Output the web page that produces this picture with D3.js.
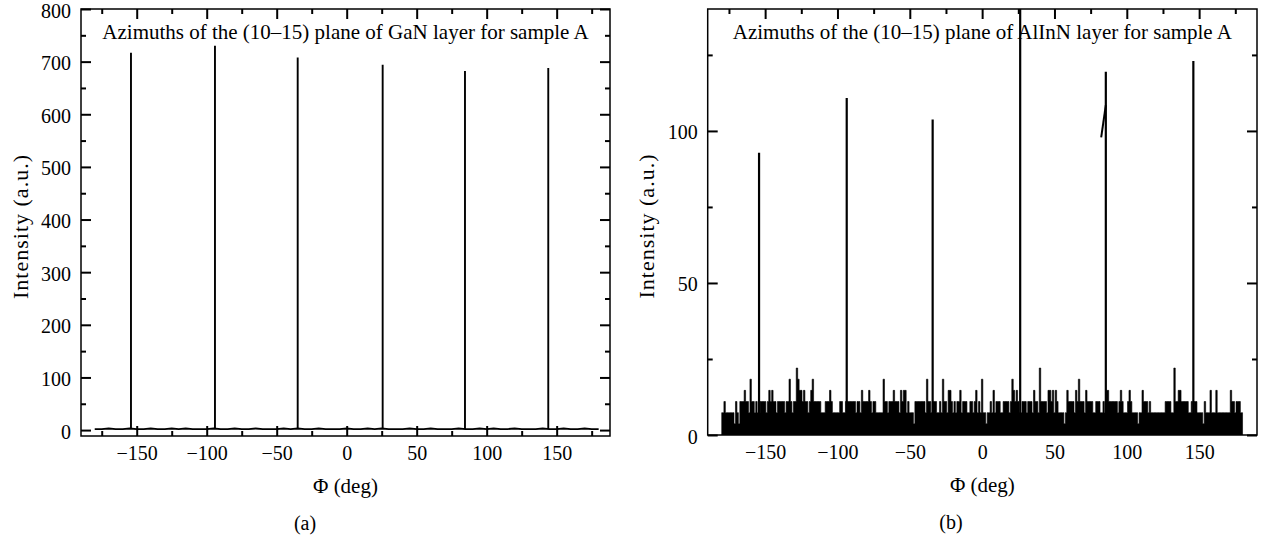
<!DOCTYPE html>
<html>
<head>
<meta charset="utf-8">
<script src="https://cdn.jsdelivr.net/npm/d3@7"></script>
<style>
  body { margin: 0; background: #fff; }
  svg text { font-family: "Liberation Serif", "Times New Roman", serif; fill: #000; }
</style>
</head>
<body>
<svg id="chart" width="1262" height="542"></svg>
<script>
"use strict";

// ---- data ----

// (a) GaN layer: peak positions (deg) and heights (a.u.)
var gaNPeakPhi = [-154.1, -94.1, -35.0, 25.7, 84.5, 144.0];
var gaNPeakHeight = [717, 730, 708, 694, 682, 688];
// baseline between peaks, one value every 5 deg from -180 to 180
var gaNBaseline = [
  2, 2, 3, 2, 2, 3, 2, 2, 3, 2,
  2, 3, 2, 3, 2, 2, 2, 3, 2, 2,
  3, 2, 2, 3, 2, 2, 2, 3, 2, 3,
  2, 2, 3, 2, 2, 2, 3, 2, 2, 3,
  2, 3, 2, 2, 2, 3, 2, 2, 3, 2,
  2, 2, 3, 2, 2, 3, 2, 3, 2, 2,
  3, 2, 2, 2, 3, 2, 2, 3, 2, 2,
  3, 2, 2
];

// (b) AlInN layer: peaks
var alInNPeakPhi = [-154.2, -93.6, -34.2, 26.3, 85.5, 146.0];
var alInNPeakHeight = [92.8, 110.8, 103.8, 141, 119.5, 123];
// stray stroke beside the 85 deg peak
var alInNStray = [[82.3, 97.9], [85.5, 108.5]];
// noise, counts per 1 deg bin from -180 to 180
var alInNCounts = [
  2, 2, 3, 2, 2, 2, 2, 2, 2, 1,
  3, 2, 1, 3, 3, 3, 4, 3, 3, 2,
  5, 3, 3, 2, 3, 2, 2, 3, 3, 3,
  3, 2, 3, 4, 3, 4, 3, 3, 2, 3,
  3, 3, 3, 3, 2, 3, 3, 5, 3, 2,
  3, 3, 6, 5, 4, 4, 3, 4, 3, 3,
  2, 3, 4, 5, 3, 3, 3, 3, 3, 2,
  2, 2, 3, 3, 3, 4, 3, 2, 2, 2,
  2, 2, 3, 3, 2, 2, 3, 3, 3, 3,
  3, 3, 3, 2, 3, 3, 2, 4, 3, 3,
  3, 3, 4, 3, 2, 3, 3, 2, 2, 2,
  2, 2, 5, 3, 3, 2, 3, 3, 3, 4,
  3, 3, 3, 2, 4, 3, 4, 4, 2, 3,
  2, 2, 2, 1, 3, 3, 3, 3, 3, 3,
  3, 2, 5, 3, 3, 2, 3, 3, 3, 2,
  2, 3, 2, 5, 3, 3, 2, 4, 4, 3,
  2, 3, 2, 3, 3, 4, 2, 3, 3, 3,
  2, 2, 3, 3, 2, 3, 4, 2, 3, 2,
  5, 2, 2, 1, 2, 2, 3, 2, 4, 2,
  3, 3, 3, 2, 2, 3, 3, 3, 3, 2,
  3, 5, 4, 3, 4, 3, 2, 2, 3, 3,
  3, 2, 3, 3, 3, 2, 4, 3, 3, 2,
  6, 3, 3, 3, 3, 2, 4, 4, 3, 4,
  2, 4, 3, 2, 2, 2, 2, 1, 2, 4,
  3, 3, 3, 3, 2, 4, 3, 5, 3, 3,
  3, 2, 4, 3, 3, 3, 3, 2, 2, 3,
  3, 3, 2, 2, 3, 2, 4, 4, 3, 3,
  3, 3, 3, 3, 2, 3, 4, 3, 2, 2,
  2, 3, 4, 3, 2, 2, 2, 2, 1, 2,
  2, 4, 3, 3, 3, 2, 3, 2, 2, 2,
  2, 2, 2, 2, 2, 2, 2, 3, 3, 3,
  3, 2, 2, 6, 3, 3, 4, 4, 3, 3,
  3, 3, 3, 2, 2, 3, 2, 3, 3, 2,
  2, 2, 2, 1, 3, 2, 2, 2, 4, 2,
  2, 2, 4, 2, 2, 2, 2, 2, 2, 2,
  2, 2, 4, 3, 3, 2, 3, 3, 3, 2,
  2
];
// one count is worth this much intensity on the (b) axis
var countIntensity = 3.67;

// tick labels
var phiTicks = [-150, -100, -50, 0, 50, 100, 150];
var gaNTicks = [0, 100, 200, 300, 400, 500, 600, 700, 800];
var alInNTicks = [0, 50, 100];

var titleA = "Azimuths of the (10\u201315) plane of GaN layer for sample A";
var titleB = "Azimuths of the (10\u201315) plane of AlInN layer for sample A";

var svg = d3.select("#chart");

/**
 * Draws the frame, the inward ticks on all four sides and the texts of one panel.
 */
function panelFrame(g, x, y, opt) {
  var w = x.range()[1] - x.range()[0];
  var h = y.range()[0] - y.range()[1];

  // x ticks, every 25 deg, long ones every 50
  var xMinor = d3.range(-175, 180, 25).filter(function (d) { return d % 50 !== 0; });
  g.append("g")
    .attr("transform", "translate(0," + h + ")")
    .call(d3.axisBottom(x).tickValues(phiTicks).tickSize(-10).tickPadding(10)
      .tickFormat(d3.format("d")));
  g.append("g")
    .attr("transform", "translate(0," + h + ")")
    .call(d3.axisBottom(x).tickValues(xMinor).tickSize(-5).tickFormat(""));
  g.append("g")
    .call(d3.axisTop(x).tickValues(phiTicks).tickSize(-10).tickFormat(""));
  g.append("g")
    .call(d3.axisTop(x).tickValues(xMinor).tickSize(-5).tickFormat(""));

  // y ticks
  var yAxis = g.append("g")
    .call(d3.axisLeft(y).tickValues(opt.yTicks).tickSize(-10).tickPadding(10)
      .tickFormat(d3.format("d")));
  yAxis.selectAll("text").attr("dy", "0.4em");
  g.append("g")
    .call(d3.axisLeft(y).tickValues(opt.yMinor).tickSize(-5).tickFormat(""));
  g.append("g")
    .attr("transform", "translate(" + w + ",0)")
    .call(d3.axisRight(y).tickValues(opt.yTicks).tickSize(-10).tickFormat(""));
  g.append("g")
    .attr("transform", "translate(" + w + ",0)")
    .call(d3.axisRight(y).tickValues(opt.yMinor).tickSize(-5).tickFormat(""));

  g.selectAll(".domain").remove();
  g.selectAll(".tick line").attr("stroke", "#000").attr("stroke-width", 2);
  g.selectAll(".tick text").style("font-size", "20px");

  g.append("rect")
    .attr("width", w)
    .attr("height", h)
    .attr("fill", "none")
    .attr("stroke", "#000")
    .attr("stroke-width", 1.5);

  g.append("text")
    .attr("x", w / 2)
    .attr("y", 30)
    .attr("text-anchor", "middle")
    .style("font-size", "21px")
    .text(opt.title);

  g.append("text")
    .attr("x", w / 2)
    .attr("y", h + 57)
    .attr("text-anchor", "middle")
    .style("font-size", "21px")
    .text("\u03a6 (deg)");

  g.append("text")
    .attr("transform", "translate(" + opt.yLabelX + "," + (h / 2 + 4) + ") rotate(-90)")
    .attr("text-anchor", "middle")
    .attr("dy", "0.35em")
    .style("font-size", "22px")
    .style("letter-spacing", "1px")
    .text("Intensity (a.u.)");

  g.append("text")
    .attr("x", opt.captionX)
    .attr("y", h + 94)
    .attr("text-anchor", "middle")
    .style("font-size", "20px")
    .text(opt.caption);
}

// ---------- (a) GaN ----------
var xA = d3.scaleLinear().domain([-189.8, 188.1]).range([0, 529]);
var yA = d3.scaleLinear().domain([-11.25, 800]).range([427, 0]);
var gA = svg.append("g").attr("transform", "translate(81,9)");

gA.append("clipPath").attr("id", "clipA")
  .append("rect").attr("width", 529).attr("height", 427);

var plotA = gA.append("g").attr("clip-path", "url(#clipA)");

var baselinePhi = d3.range(-180, 181, 5);
plotA.append("path")
  .datum(gaNBaseline)
  .attr("fill", "none")
  .attr("stroke", "#000")
  .attr("stroke-width", 1.8)
  .attr("d", d3.line()
    .x(function (d, i) { return xA(baselinePhi[i]); })
    .y(function (d) { return yA(d); }));

plotA.selectAll("line.peak")
  .data(gaNPeakPhi)
  .enter()
  .append("line")
  .attr("class", "peak")
  .attr("x1", function (d) { return xA(d); })
  .attr("x2", function (d) { return xA(d); })
  .attr("y1", yA(2))
  .attr("y2", function (d, i) { return yA(gaNPeakHeight[i]); })
  .attr("stroke", "#000")
  .attr("stroke-width", 1.9);

panelFrame(gA, xA, yA, {
  yTicks: gaNTicks,
  yMinor: [50, 150, 250, 350, 450, 550, 650, 750],
  title: titleA,
  yLabelX: -61,
  caption: "(a)",
  captionX: 224
});

// ---------- (b) AlInN ----------
var xB = d3.scaleLinear().domain([-189.7, 190]).range([0, 549.3]);
var yB = d3.scaleLinear().domain([0, 140.1]).range([426, 0]);
var gB = svg.append("g").attr("transform", "translate(707.7,9)");

gB.append("clipPath").attr("id", "clipB")
  .append("rect").attr("width", 549.3).attr("height", 426);

var plotB = gB.append("g").attr("clip-path", "url(#clipB)");

var countPhi = d3.range(-180, 181, 1);
plotB.append("path")
  .datum(alInNCounts)
  .attr("fill", "#000")
  .attr("stroke", "#000")
  .attr("stroke-width", 0.6)
  .attr("d", d3.area()
    .curve(d3.curveStep)
    .x(function (d, i) { return xB(countPhi[i]); })
    .y0(yB(0))
    .y1(function (d) { return yB(d * countIntensity); }));

plotB.selectAll("line.peak")
  .data(alInNPeakPhi)
  .enter()
  .append("line")
  .attr("class", "peak")
  .attr("x1", function (d) { return xB(d); })
  .attr("x2", function (d) { return xB(d); })
  .attr("y1", yB(0))
  .attr("y2", function (d, i) { return yB(alInNPeakHeight[i]); })
  .attr("stroke", "#000")
  .attr("stroke-width", 2.2);

plotB.append("path")
  .datum(alInNStray)
  .attr("fill", "none")
  .attr("stroke", "#000")
  .attr("stroke-width", 2)
  .attr("d", d3.line()
    .x(function (d) { return xB(d[0]); })
    .y(function (d) { return yB(d[1]); }));

panelFrame(gB, xB, yB, {
  yTicks: alInNTicks,
  yMinor: [25, 75, 125],
  title: titleB,
  yLabelX: -61.7,
  caption: "(b)",
  captionX: 243.3
});
</script>
</body>
</html>
